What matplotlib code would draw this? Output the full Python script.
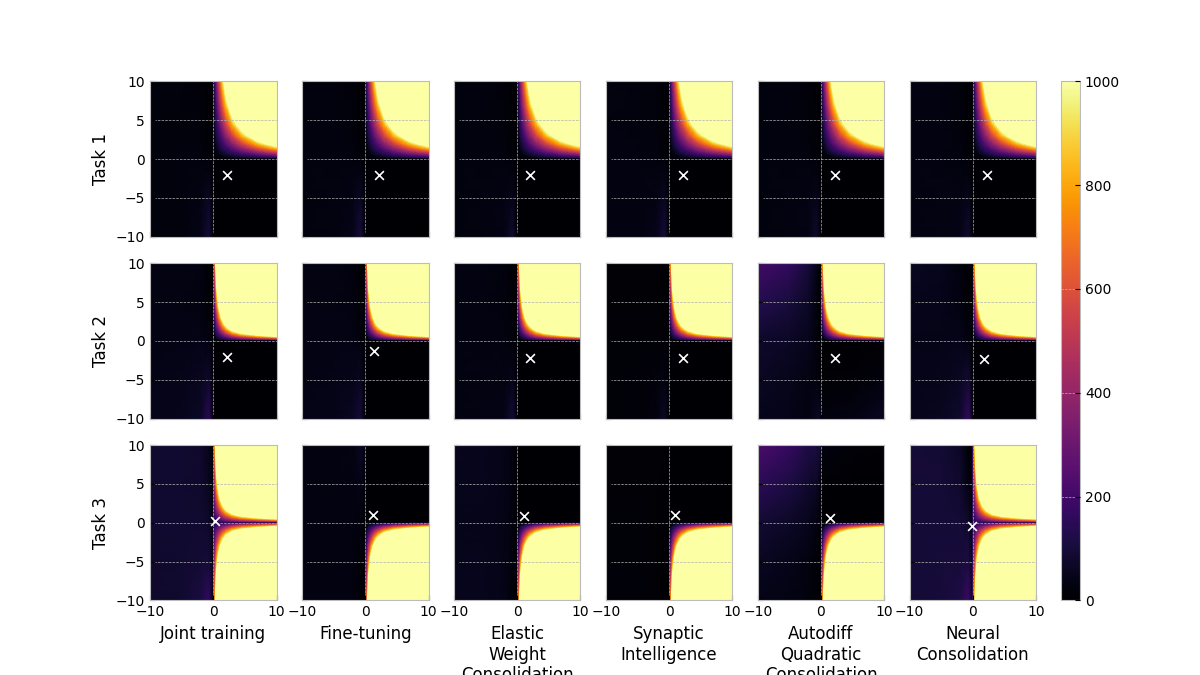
import numpy as np
import matplotlib
matplotlib.use('Agg')
import matplotlib.pyplot as plt

plt.style.use('bmh')

methods = ['Joint training', 'Fine-tuning', 'Elastic\nWeight\nConsolidation',
           'Synaptic\nIntelligence', 'Autodiff\nQuadratic\nConsolidation',
           'Neural\nConsolidation']
tasks = ['Task 1', 'Task 2', 'Task 3']

# solutions found by each method (one row per task)
best_x = [[2.1, 2.1, 2.1, 2.2, 2.2, 2.2],
          [2.1, 1.4, 2.1, 2.2, 2.2, 1.7],
          [0.2, 1.25, 1.1, 1.0, 1.4, -0.15]]
best_y = [[-2.1, -2.1, -2.1, -2.1, -2.1, -2.1],
          [-2.1, -1.3, -2.2, -2.2, -2.2, -2.3],
          [0.25, 1.05, 0.9, 1.0, 0.65, -0.4]]

# left half of every panel, rows are y = -10, -5, 0, 5, 10
left_xs = [-10, -5, -2, -0.7, 0]
left_ys = [-10, -5, 0, 5, 10]
left_task1 = [
    [[22, 25, 40, 100, 5], [22, 25, 34, 65, 5], [22, 25, 25, 15, 5], [22, 22, 20, 5, 5], [22, 22, 18, 3, 5]],
    [[25, 30, 45, 105, 5], [25, 30, 38, 65, 5], [25, 25, 25, 15, 5], [25, 25, 20, 5, 5], [25, 25, 18, 3, 5]],
    [[25, 28, 38, 85, 5], [25, 28, 32, 50, 5], [25, 25, 25, 15, 5], [25, 25, 20, 8, 5], [25, 25, 18, 5, 5]],
    [[28, 30, 45, 100, 5], [28, 30, 36, 60, 5], [28, 28, 25, 15, 5], [28, 25, 22, 8, 5], [28, 25, 20, 5, 5]],
    [[25, 28, 38, 80, 5], [25, 28, 32, 50, 5], [25, 25, 25, 15, 5], [25, 25, 20, 8, 5], [25, 25, 18, 5, 5]],
    [[30, 32, 42, 85, 5], [30, 32, 35, 50, 5], [30, 30, 25, 15, 5], [30, 28, 22, 6, 5], [30, 28, 20, 3, 5]],
]
left_task2 = [
    [[45, 50, 70, 150, 30], [40, 45, 55, 80, 10], [35, 38, 40, 30, 5], [35, 35, 30, 10, 5], [35, 35, 30, 5, 5]],
    [[40, 42, 60, 100, 5], [38, 40, 45, 60, 5], [35, 38, 38, 25, 5], [35, 35, 30, 10, 5], [35, 35, 25, 5, 5]],
    [[30, 32, 40, 95, 20], [30, 32, 35, 50, 8], [30, 30, 30, 20, 5], [30, 30, 25, 10, 5], [30, 30, 25, 5, 5]],
    [[15, 18, 25, 70, 10], [15, 16, 20, 30, 5], [12, 12, 12, 10, 3], [10, 10, 8, 5, 3], [10, 10, 8, 3, 3]],
    [[50, 40, 30, 60, 60], [65, 50, 35, 25, 10], [75, 65, 50, 20, 3], [135, 105, 70, 25, 3], [205, 165, 100, 40, 5]],
    [[50, 55, 80, 170, 40], [45, 50, 60, 90, 10], [40, 42, 45, 30, 5], [50, 45, 30, 10, 5], [60, 50, 25, 5, 5]],
]
left_task3 = [
    [[80, 85, 110, 175, 40], [80, 85, 90, 100, 25], [85, 85, 85, 75, 20], [85, 85, 80, 55, 10], [85, 85, 80, 50, 10]],
    [[30, 30, 28, 12, 2], [30, 30, 28, 15, 2], [30, 30, 28, 25, 5], [30, 30, 30, 40, 15], [30, 30, 32, 60, 45]],
    [[50, 48, 40, 15, 3], [48, 48, 40, 20, 3], [45, 45, 40, 25, 5], [50, 48, 42, 25, 5], [55, 50, 42, 25, 5]],
    [[18, 16, 10, 3, 0], [16, 14, 10, 3, 0], [12, 12, 10, 5, 0], [10, 10, 8, 5, 0], [10, 10, 8, 8, 2]],
    [[40, 35, 25, 10, 3], [60, 45, 30, 12, 3], [90, 70, 50, 30, 10], [150, 115, 80, 70, 30], [225, 175, 120, 110, 100]],
    [[95, 100, 120, 190, 50], [95, 100, 100, 115, 25], [95, 95, 95, 80, 15], [95, 95, 80, 30, 5], [95, 90, 70, 15, 5]],
]

# right half quadrants, rows and columns follow right_grid
right_grid = [0, 0.3, 0.6, 1, 1.5, 2, 3, 4.5, 7, 10]
gentle_quadrant = [
    [0, 0, 0, 0, 0, 0, 0, 0, 0, 0],
    [0, 5, 11, 18, 27, 36, 54, 81, 126, 180],
    [0, 11, 22, 36, 54, 72, 108, 162, 252, 360],
    [0, 18, 36, 60, 90, 120, 180, 270, 420, 600],
    [0, 27, 54, 90, 135, 180, 270, 405, 630, 900],
    [0, 36, 72, 120, 180, 240, 360, 540, 840, 1200],
    [0, 54, 108, 180, 270, 360, 540, 810, 1260, 1800],
    [0, 81, 162, 270, 405, 540, 810, 1215, 1890, 2700],
    [0, 126, 252, 420, 630, 840, 1260, 1890, 2940, 4200],
    [0, 180, 360, 600, 900, 1200, 1800, 2700, 4200, 6000],
]
steep_quadrant = [
    [0, 0, 0, 0, 0, 0, 0, 0, 0, 0],
    [0, 22, 45, 75, 112, 150, 220, 300, 400, 510],
    [0, 45, 90, 150, 225, 300, 440, 600, 790, 1000],
    [0, 75, 150, 250, 375, 500, 730, 1000, 1320, 1700],
    [0, 112, 225, 375, 560, 750, 1100, 1500, 1980, 2550],
    [0, 150, 300, 500, 750, 1000, 1460, 2000, 2640, 3400],
    [0, 225, 450, 750, 1125, 1500, 2190, 3000, 3960, 5100],
    [0, 337, 675, 1125, 1690, 2250, 3300, 4500, 5900, 7650],
    [0, 525, 1050, 1750, 2600, 3500, 5100, 7000, 9240, 11900],
    [0, 750, 1500, 2500, 3750, 5000, 7300, 10000, 13200, 17000],
]
task3_floor = [130, 0, 0, 0, 0, 130]

# the nearly black quadrants
dark_xs = [0, 5, 10]
dark_ys = [0, 5, 10]
flat_dark = [[0, 0, 0], [0, 0, 0], [0, 0, 0]]
autodiff_task2_lower = [[0, 0, 0], [8, 8, 25], [25, 35, 60]]
autodiff_task3_upper = [[0, 0, 0], [10, 3, 0], [30, 15, 10]]

fig, axes = plt.subplots(3, 6, sharex=True, sharey=True, figsize=(12, 6.75))
fig.subplots_adjust(right=0.8635, top=0.8795, bottom=0.1105, hspace=0.17)
style = dict(cmap='inferno', vmin=0, vmax=1000, shading='gouraud')
fill = dict(cmap='inferno', vmin=0, vmax=1000, levels=np.linspace(0, 1000, 41), extend='max')

for row in range(3):
    left_vals = [left_task1, left_task2, left_task3][row]
    for col in range(6):
        ax = axes[row, col]
        mesh = ax.pcolormesh(left_xs, left_ys, np.array(left_vals[col]), **style)

        if row == 0:
            ax.contourf(right_grid, right_grid, np.array(gentle_quadrant), **fill)
        elif row == 1:
            ax.contourf(right_grid, right_grid, np.array(steep_quadrant), **fill)
        elif task3_floor[col] > 0:
            ax.contourf(right_grid, right_grid, np.array(steep_quadrant) + task3_floor[col], **fill)
        elif col == 4:
            ax.pcolormesh(dark_xs, dark_ys, np.array(autodiff_task3_upper), **style)
        else:
            ax.pcolormesh(dark_xs, dark_ys, np.array(flat_dark), **style)

        neg_grid = [-g for g in right_grid]
        neg_dark = [-d for d in dark_ys]
        if row == 2:
            ax.contourf(right_grid, neg_grid, np.array(steep_quadrant) + task3_floor[col], **fill)
        elif row == 1 and col == 4:
            ax.pcolormesh(dark_xs, neg_dark, np.array(autodiff_task2_lower), **style)
        else:
            ax.pcolormesh(dark_xs, neg_dark, np.array(flat_dark), **style)

        ax.scatter(best_x[row][col], best_y[row][col], marker='x', color='white',
                   s=40, linewidths=1.2, zorder=3)
        ax.set_xlim(-10, 10)
        ax.set_ylim(-10, 10)
        ax.set_xticks([-10, 0, 10])
        ax.set_yticks([-10, -5, 0, 5, 10])
        if row == 2:
            ax.set_xlabel(methods[col])
        if col == 0:
            ax.set_ylabel(tasks[row])

cax = fig.add_axes([0.8845, 0.1105, 0.0155, 0.769])
cbar = fig.colorbar(mesh, cax=cax)
cbar.set_ticks([0, 200, 400, 600, 800, 1000])
cax.set_axisbelow(False)
cax.yaxis.grid(True)

fig.savefig('out.png', dpi=100)
